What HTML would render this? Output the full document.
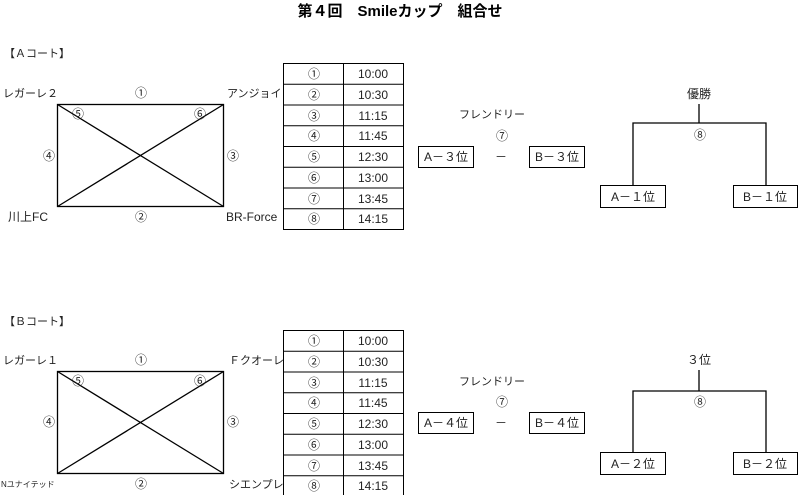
<!DOCTYPE html>
<html><head><meta charset="utf-8"><style>
html,body{margin:0;padding:0;background:#fff;}
svg{display:block;}
text{font-family:"Liberation Sans","Noto Sans CJK JP",sans-serif;font-size:12px;fill:#222;}
</style></head><body>
<svg width="800" height="495" viewBox="0 0 800 495" xmlns="http://www.w3.org/2000/svg">
<text x="400" y="16" text-anchor="middle" style="font-size:15px;font-weight:bold;fill:#000">第４回　Smileカップ　組合せ</text>

<!-- A court -->
<text x="4" y="57" style="font-size:11px">【Ａコート】</text>
<text x="3" y="97" style="font-size:11px">レガーレ２</text>
<text x="141" y="97" text-anchor="middle">①</text>
<text x="227" y="97" style="font-size:11px">アンジョイ</text>
<rect x="57.5" y="104.5" width="166" height="102" fill="none" stroke="#000" stroke-width="1.3"/>
<line x1="57.5" y1="104.5" x2="223.5" y2="206.5" stroke="#000" stroke-width="1.3"/>
<line x1="223.5" y1="104.5" x2="57.5" y2="206.5" stroke="#000" stroke-width="1.3"/>
<text x="78" y="118" text-anchor="middle">⑤</text>
<text x="200" y="118" text-anchor="middle">⑥</text>
<text x="49" y="160" text-anchor="middle">④</text>
<text x="233" y="160" text-anchor="middle">③</text>
<text x="8" y="221">川上FC</text>
<text x="141" y="221" text-anchor="middle">②</text>
<text x="226" y="221">BR-Force</text>

<!-- A table -->
<g stroke="#000" stroke-width="1" fill="none">
<rect x="283.5" y="63.5" width="120" height="166"/>
<line x1="343.5" y1="63.5" x2="343.5" y2="229.5"/>
<line x1="283.5" y1="84.25" x2="403.5" y2="84.25"/>
<line x1="283.5" y1="105" x2="403.5" y2="105"/>
<line x1="283.5" y1="125.75" x2="403.5" y2="125.75"/>
<line x1="283.5" y1="146.5" x2="403.5" y2="146.5"/>
<line x1="283.5" y1="167.25" x2="403.5" y2="167.25"/>
<line x1="283.5" y1="188" x2="403.5" y2="188"/>
<line x1="283.5" y1="208.75" x2="403.5" y2="208.75"/>
</g>
<g text-anchor="middle">
<text x="314" y="78">①</text><text x="373" y="78">10:00</text>
<text x="314" y="99">②</text><text x="373" y="99">10:30</text>
<text x="314" y="120">③</text><text x="373" y="120">11:15</text>
<text x="314" y="140">④</text><text x="373" y="140">11:45</text>
<text x="314" y="161">⑤</text><text x="373" y="161">12:30</text>
<text x="314" y="182">⑥</text><text x="373" y="182">13:00</text>
<text x="314" y="203">⑦</text><text x="373" y="203">13:45</text>
<text x="314" y="223">⑧</text><text x="373" y="223">14:15</text>
</g>

<!-- A right -->
<text x="492" y="118" text-anchor="middle" style="font-size:11px">フレンドリー</text>
<text x="502" y="140" text-anchor="middle">⑦</text>
<rect x="418.5" y="146.5" width="55" height="21" fill="none" stroke="#000"/>
<text x="446" y="161" text-anchor="middle">A－３位</text>
<text x="501" y="161" text-anchor="middle">－</text>
<rect x="529.5" y="146.5" width="55" height="21" fill="none" stroke="#000"/>
<text x="557" y="161" text-anchor="middle">B－３位</text>

<text x="699" y="98" text-anchor="middle">優勝</text>
<g stroke="#000" stroke-width="1.3" fill="none">
<line x1="699" y1="104" x2="699" y2="123"/>
<polyline points="633,186 633,123 766,123 766,186"/>
</g>
<text x="700" y="139" text-anchor="middle">⑧</text>
<rect x="600.5" y="185.5" width="65" height="22" fill="#fff" stroke="#000"/>
<text x="633" y="201" text-anchor="middle">A－１位</text>
<rect x="733.5" y="185.5" width="64" height="22" fill="#fff" stroke="#000"/>
<text x="765" y="201" text-anchor="middle">B－１位</text>

<!-- B court -->
<text x="4" y="325" style="font-size:11px">【Ｂコート】</text>
<text x="3" y="364" style="font-size:11px">レガーレ１</text>
<text x="141" y="364" text-anchor="middle">①</text>
<text x="229" y="364" style="font-size:11px">Ｆクオーレ</text>
<rect x="57.5" y="371.5" width="166" height="102" fill="none" stroke="#000" stroke-width="1.3"/>
<line x1="57.5" y1="371.5" x2="223.5" y2="473.5" stroke="#000" stroke-width="1.3"/>
<line x1="223.5" y1="371.5" x2="57.5" y2="473.5" stroke="#000" stroke-width="1.3"/>
<text x="78" y="385" text-anchor="middle">⑤</text>
<text x="200" y="385" text-anchor="middle">⑥</text>
<text x="49" y="426" text-anchor="middle">④</text>
<text x="233" y="426" text-anchor="middle">③</text>
<text x="1" y="487" style="font-size:8px">Nユナイテッド</text>
<text x="141" y="488" text-anchor="middle">②</text>
<text x="229" y="488" style="font-size:11px">シエンプレ</text>

<!-- B table -->
<g stroke="#000" stroke-width="1" fill="none">
<rect x="283.5" y="330.5" width="120" height="165"/>
<line x1="343.5" y1="330.5" x2="343.5" y2="495"/>
<line x1="283.5" y1="351.25" x2="403.5" y2="351.25"/>
<line x1="283.5" y1="372" x2="403.5" y2="372"/>
<line x1="283.5" y1="392.75" x2="403.5" y2="392.75"/>
<line x1="283.5" y1="413.5" x2="403.5" y2="413.5"/>
<line x1="283.5" y1="434.25" x2="403.5" y2="434.25"/>
<line x1="283.5" y1="455" x2="403.5" y2="455"/>
<line x1="283.5" y1="475.75" x2="403.5" y2="475.75"/>
</g>
<g text-anchor="middle">
<text x="314" y="345">①</text><text x="373" y="345">10:00</text>
<text x="314" y="366">②</text><text x="373" y="366">10:30</text>
<text x="314" y="387">③</text><text x="373" y="387">11:15</text>
<text x="314" y="407">④</text><text x="373" y="407">11:45</text>
<text x="314" y="428">⑤</text><text x="373" y="428">12:30</text>
<text x="314" y="449">⑥</text><text x="373" y="449">13:00</text>
<text x="314" y="470">⑦</text><text x="373" y="470">13:45</text>
<text x="314" y="490">⑧</text><text x="373" y="490">14:15</text>
</g>

<!-- B right -->
<text x="492" y="385" text-anchor="middle" style="font-size:11px">フレンドリー</text>
<text x="502" y="406" text-anchor="middle">⑦</text>
<rect x="418.5" y="412.5" width="55" height="21" fill="none" stroke="#000"/>
<text x="446" y="427" text-anchor="middle">A－４位</text>
<text x="501" y="427" text-anchor="middle">－</text>
<rect x="529.5" y="412.5" width="55" height="21" fill="none" stroke="#000"/>
<text x="557" y="427" text-anchor="middle">B－４位</text>

<text x="699" y="364" text-anchor="middle">３位</text>
<g stroke="#000" stroke-width="1.3" fill="none">
<line x1="699" y1="370" x2="699" y2="391"/>
<polyline points="633,453 633,391 766,391 766,453"/>
</g>
<text x="700" y="406" text-anchor="middle">⑧</text>
<rect x="600.5" y="452.5" width="65" height="22" fill="#fff" stroke="#000"/>
<text x="633" y="468" text-anchor="middle">A－２位</text>
<rect x="733.5" y="452.5" width="64" height="22" fill="#fff" stroke="#000"/>
<text x="765" y="468" text-anchor="middle">B－２位</text>
</svg>
</body></html>
